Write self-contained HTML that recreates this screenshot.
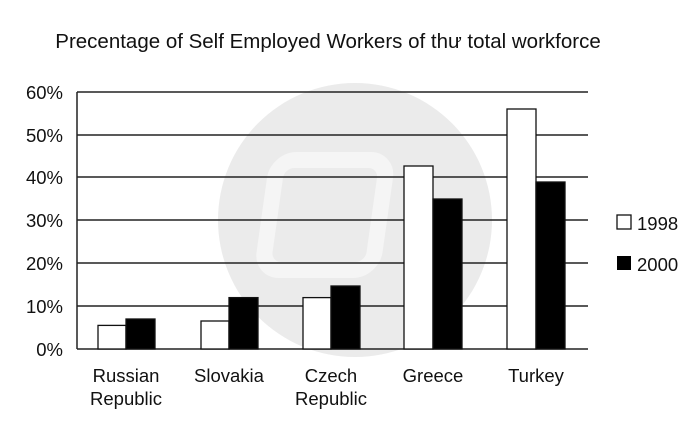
<!DOCTYPE html>
<html><head><style>body{margin:0;background:#fff}</style></head><body>
<svg width="700" height="440" viewBox="0 0 700 440" xmlns="http://www.w3.org/2000/svg" style="display:block">
<rect width="700" height="440" fill="#fff"/>
<circle cx="355" cy="220" r="137" fill="#ebebeb"/>
<rect x="300" y="160" width="110" height="110" rx="18" fill="none" stroke="#f5f5f5" stroke-width="16" transform="skewX(-8)"/>
<text x="328" y="48" font-family="Liberation Sans, sans-serif" font-size="20.5" text-anchor="middle" fill="#111">Precentage of Self Employed Workers of thư total workforce</text>
<g stroke="#222" stroke-width="1.5">
<line x1="77" y1="92" x2="588" y2="92"/>
<line x1="77" y1="135" x2="588" y2="135"/>
<line x1="77" y1="177" x2="588" y2="177"/>
<line x1="77" y1="220" x2="588" y2="220"/>
<line x1="77" y1="263" x2="588" y2="263"/>
<line x1="77" y1="306" x2="588" y2="306"/>
<line x1="77" y1="349" x2="588" y2="349"/>
<line x1="77" y1="92" x2="77" y2="349"/>
</g>
<g font-family="Liberation Sans, sans-serif" font-size="18.5" fill="#111" text-anchor="end">
<text x="63" y="99">60%</text><text x="63" y="142">50%</text><text x="63" y="184">40%</text>
<text x="63" y="227">30%</text><text x="63" y="270">20%</text><text x="63" y="313">10%</text><text x="63" y="356">0%</text>
</g>
<g stroke="#111" stroke-width="1.3">
<rect x="98" y="325.4" width="28" height="23.6" fill="#fff"/>
<rect x="126" y="319" width="29" height="30" fill="#000"/>
<rect x="201" y="321" width="28" height="28" fill="#fff"/>
<rect x="229" y="297.6" width="29" height="51.4" fill="#000"/>
<rect x="303" y="297.6" width="28" height="51.4" fill="#fff"/>
<rect x="331" y="286" width="29" height="63" fill="#000"/>
<rect x="404" y="166" width="29" height="183" fill="#fff"/>
<rect x="433" y="199" width="29" height="150" fill="#000"/>
<rect x="507" y="109" width="29" height="240" fill="#fff"/>
<rect x="536" y="182" width="29" height="167" fill="#000"/>
</g>
<g font-family="Liberation Sans, sans-serif" font-size="18.5" fill="#111" text-anchor="middle">
<text x="126" y="382">Russian</text><text x="126" y="405">Republic</text>
<text x="229" y="382">Slovakia</text>
<text x="331" y="382">Czech</text><text x="331" y="405">Republic</text>
<text x="433" y="382">Greece</text>
<text x="536" y="382">Turkey</text>
</g>
<rect x="617" y="215" width="14" height="14" fill="#fff" stroke="#111" stroke-width="1.3"/>
<rect x="617" y="256" width="14" height="14" fill="#000"/>
<g font-family="Liberation Sans, sans-serif" font-size="18.5" fill="#111">
<text x="637" y="230">1998</text><text x="637" y="271">2000</text>
</g>
</svg>
</body></html>
